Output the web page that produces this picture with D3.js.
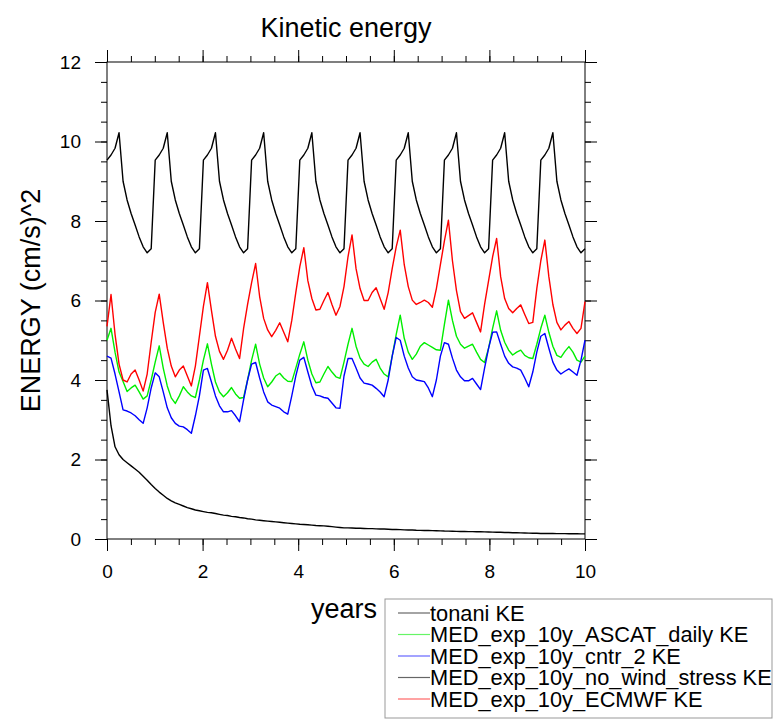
<!DOCTYPE html>
<html>
<head>
<meta charset="utf-8">
<script src="https://cdn.jsdelivr.net/npm/d3@7"></script>
<style>
	body { margin: 0; background: #fff; }
	text { font-family: "Liberation Sans", Arial, Helvetica, sans-serif; fill: #000; }
</style>
</head>
<body>
<svg id="chart" width="774" height="719"></svg>
<script>
var xTicks = [ 0, 2, 4, 6, 8, 10 ];
var yTicks = [ 0, 2, 4, 6, 8, 10, 12 ];
var seriesNames = [ "tonani KE", "MED_exp_10y_ASCAT_daily KE", "MED_exp_10y_cntr_2 KE", "MED_exp_10y_no_wind_stress KE", "MED_exp_10y_ECMWF KE" ];
var seriesColors = [ "#000000", "#00ee00", "#0000ff", "#000000", "#ff0000" ];

// monthly means, 10 years (120 values each)
var tonaniKE = [
	9.53, 9.66, 9.83, 10.22, 9.0, 8.53, 8.19, 7.9, 7.6, 7.35, 7.2, 7.3,
	9.53, 9.66, 9.83, 10.22, 9.0, 8.53, 8.19, 7.9, 7.6, 7.35, 7.2, 7.3,
	9.53, 9.66, 9.83, 10.22, 9.0, 8.53, 8.19, 7.9, 7.6, 7.35, 7.2, 7.3,
	9.53, 9.66, 9.83, 10.22, 9.0, 8.53, 8.19, 7.9, 7.6, 7.35, 7.2, 7.3,
	9.53, 9.66, 9.83, 10.22, 9.0, 8.53, 8.19, 7.9, 7.6, 7.35, 7.2, 7.3,
	9.53, 9.66, 9.83, 10.22, 9.0, 8.53, 8.19, 7.9, 7.6, 7.35, 7.2, 7.3,
	9.53, 9.66, 9.83, 10.22, 9.0, 8.53, 8.19, 7.9, 7.6, 7.35, 7.2, 7.3,
	9.53, 9.66, 9.83, 10.22, 9.0, 8.53, 8.19, 7.9, 7.6, 7.35, 7.2, 7.3,
	9.53, 9.66, 9.83, 10.22, 9.0, 8.53, 8.19, 7.9, 7.6, 7.35, 7.2, 7.3,
	9.53, 9.66, 9.83, 10.22, 9.0, 8.53, 8.19, 7.9, 7.6, 7.35, 7.2, 7.3 ];

var ascatKE = [
	5.0, 5.3, 4.7, 4.2, 3.96, 3.71, 3.8, 3.87, 3.7, 3.52, 3.6, 4.0,
	4.45, 4.86, 4.3, 3.85, 3.55, 3.41, 3.6, 3.83, 3.7, 3.6, 3.56, 4.0,
	4.5, 4.91, 4.4, 3.95, 3.7, 3.58, 3.68, 3.81, 3.65, 3.54, 3.56, 4.0,
	4.5, 4.9, 4.4, 4.05, 3.83, 3.95, 4.1, 4.17, 4.05, 3.97, 3.96, 4.3,
	4.65, 4.96, 4.5, 4.15, 3.93, 3.95, 4.15, 4.34, 4.2, 4.08, 4.04, 4.45,
	4.9, 5.3, 4.85, 4.55, 4.4, 4.34, 4.45, 4.52, 4.3, 4.15, 4.08, 4.6,
	5.15, 5.63, 5.05, 4.7, 4.52, 4.65, 4.85, 4.94, 4.88, 4.82, 4.76, 4.75,
	5.4, 6.01, 5.5, 5.1, 4.9, 4.8, 4.85, 4.9, 4.7, 4.52, 4.44, 4.8,
	5.3, 5.74, 5.25, 4.95, 4.75, 4.63, 4.7, 4.75, 4.62, 4.56, 4.54, 4.9,
	5.3, 5.63, 5.2, 4.85, 4.62, 4.57, 4.72, 4.84, 4.7, 4.5, 4.45, 4.6 ];

var cntrKE = [
	4.6, 4.55, 4.15, 3.7, 3.25, 3.22, 3.17, 3.1, 3.0, 2.91, 3.3, 3.8,
	4.18, 4.08, 3.7, 3.3, 3.05, 2.91, 2.84, 2.82, 2.75, 2.66, 3.1, 3.6,
	4.25, 4.29, 3.95, 3.6, 3.35, 3.2, 3.2, 3.23, 3.1, 2.95, 3.5, 4.0,
	4.4, 4.44, 4.05, 3.7, 3.45, 3.37, 3.33, 3.29, 3.2, 3.14, 3.6, 4.1,
	4.5, 4.57, 4.2, 3.85, 3.62, 3.6, 3.56, 3.54, 3.42, 3.3, 3.29, 4.1,
	4.54, 4.54, 4.3, 4.05, 3.92, 3.9, 3.87, 3.79, 3.7, 3.58, 4.0, 4.6,
	5.07, 5.0, 4.6, 4.3, 4.08, 4.0, 3.98, 3.96, 3.8, 3.58, 4.0, 4.6,
	4.94, 4.9, 4.55, 4.25, 4.08, 3.98, 3.98, 4.04, 3.9, 3.76, 4.3, 4.8,
	5.2, 5.21, 4.9, 4.6, 4.42, 4.33, 4.3, 4.25, 4.05, 3.83, 4.2, 4.7,
	5.1, 5.17, 4.8, 4.45, 4.25, 4.15, 4.22, 4.28, 4.2, 4.12, 4.5, 5.0 ];

var noWindKE = [
	3.75, 2.85, 2.32, 2.12, 2.0, 1.92, 1.84, 1.76, 1.68, 1.58, 1.48, 1.37,
	1.27, 1.18, 1.1, 1.02, 0.96, 0.91, 0.87, 0.83, 0.79, 0.76, 0.73, 0.71,
	0.69, 0.67, 0.66, 0.64, 0.62, 0.6, 0.59, 0.57, 0.56, 0.54, 0.53, 0.51,
	0.5, 0.48, 0.47, 0.46, 0.45, 0.44, 0.43, 0.42, 0.41, 0.4, 0.39, 0.38,
	0.37, 0.365, 0.36, 0.35, 0.34, 0.335, 0.33, 0.32, 0.31, 0.3, 0.29, 0.28,
	0.28, 0.275, 0.27, 0.27, 0.265, 0.26, 0.26, 0.255, 0.25, 0.25, 0.245, 0.24,
	0.24, 0.235, 0.23, 0.228, 0.225, 0.22, 0.218, 0.215, 0.212, 0.21, 0.207, 0.205,
	0.2, 0.198, 0.195, 0.193, 0.19, 0.188, 0.186, 0.185, 0.183, 0.181, 0.18, 0.177,
	0.174, 0.171, 0.168, 0.165, 0.162, 0.159, 0.156, 0.153, 0.15, 0.148, 0.146, 0.143,
	0.14, 0.139, 0.138, 0.137, 0.136, 0.135, 0.134, 0.133, 0.132, 0.131, 0.13, 0.13 ];

var ecmwfKE = [
	5.35, 6.15, 5.15, 4.4, 4.0, 3.95, 4.15, 4.25, 4.0, 3.72, 4.15, 4.95,
	5.7, 6.16, 5.45, 4.8, 4.35, 4.08, 4.25, 4.35, 4.1, 3.85, 4.35, 5.1,
	5.85, 6.45, 5.75, 5.1, 4.72, 4.52, 4.75, 5.05, 4.78, 4.54, 5.29, 5.9,
	6.45, 6.93, 6.1, 5.55, 5.26, 5.09, 5.25, 5.44, 5.2, 4.96, 5.5, 6.2,
	6.85, 7.33, 6.5, 6.05, 5.76, 5.78, 6.0, 6.2, 5.9, 5.63, 5.85, 6.35,
	7.1, 7.65, 6.8, 6.3, 6.0, 6.0, 6.2, 6.32, 6.05, 5.78, 6.2, 6.8,
	7.35, 7.77, 6.9, 6.35, 6.01, 5.9, 5.95, 6.01, 5.95, 5.83, 6.3, 6.9,
	7.5, 8.02, 7.0, 6.25, 5.72, 5.55, 5.62, 5.69, 5.45, 5.21, 5.9, 6.5,
	7.1, 7.56, 6.6, 6.05, 5.8, 5.69, 5.8, 5.89, 5.65, 5.42, 5.45, 6.3,
	7.0, 7.52, 6.6, 5.9, 5.45, 5.26, 5.38, 5.47, 5.3, 5.17, 5.3, 5.97 ];

var seriesValues = [ tonaniKE, ascatKE, cntrKE, noWindKE, ecmwfKE ];

var plotLeft = 107, plotRight = 585, plotTop = 62, plotBottom = 539;

var svg = d3.select("#chart");

var xScale = d3.scaleLinear().domain([ 0, 10 ]).range([ plotLeft, plotRight ]);
var yScale = d3.scaleLinear().domain([ 0, 12 ]).range([ plotBottom, plotTop ]);

function yearOf(index, count) {
	return index * 10 / (count - 1);
}

var minorX = d3.range(0, 10.01, 0.5);
var minorY = d3.range(0, 12.01, 0.5);

function drawAxis(axis, transform, labels) {
	var g = svg.append("g").attr("transform", transform).call(axis);
	g.select(".domain").remove();
	g.selectAll("line").attr("stroke", "#000").attr("stroke-width", 1);
	g.selectAll("text").style("font-size", "19px");
	if (!labels) {
		g.selectAll("text").remove();
	}
	return g;
}

// minor ticks
drawAxis(d3.axisBottom(xScale).tickValues(minorX).tickSize(6).tickFormat(""), "translate(0," + plotBottom + ")", false);
drawAxis(d3.axisTop(xScale).tickValues(minorX).tickSize(6).tickFormat(""), "translate(0," + plotTop + ")", false);
drawAxis(d3.axisLeft(yScale).tickValues(minorY).tickSize(6).tickFormat(""), "translate(" + plotLeft + ",0)", false);
drawAxis(d3.axisRight(yScale).tickValues(minorY).tickSize(6).tickFormat(""), "translate(" + plotRight + ",0)", false);

// major ticks
drawAxis(d3.axisBottom(xScale).tickValues(xTicks).tickSize(12).tickPadding(14), "translate(0," + plotBottom + ")", true);
drawAxis(d3.axisTop(xScale).tickValues(xTicks).tickSize(12), "translate(0," + plotTop + ")", false);
drawAxis(d3.axisLeft(yScale).tickValues(yTicks).tickSize(12).tickPadding(14), "translate(" + plotLeft + ",0)", true);
drawAxis(d3.axisRight(yScale).tickValues(yTicks).tickSize(12), "translate(" + plotRight + ",0)", false);

svg.append("rect")//
.attr("x", plotLeft)//
.attr("y", plotTop)//
.attr("width", plotRight - plotLeft)//
.attr("height", plotBottom - plotTop)//
.attr("fill", "none")//
.attr("stroke", "#000")//
.attr("stroke-width", 1);

var line = d3.line()//
.x(function(d, i, arr) {
	return xScale(yearOf(i, arr.length));
})//
.y(function(d) {
	return yScale(d);
});

svg.append("g").selectAll("path")//
.data(seriesValues)//
.enter().append("path")//
.attr("d", line)//
.attr("fill", "none")//
.attr("stroke", function(d, i) {
	return seriesColors[i];
})//
.attr("stroke-width", 1.4)//
.attr("stroke-linejoin", "round");

// titles
svg.append("text")//
.attr("x", (plotLeft + plotRight) / 2)//
.attr("y", 37)//
.attr("text-anchor", "middle")//
.style("font-size", "27px")//
.text("Kinetic energy");

svg.append("text")//
.attr("x", (plotLeft + plotRight) / 2 - 2)//
.attr("y", 618)//
.attr("text-anchor", "middle")//
.style("font-size", "27px")//
.text("years");

svg.append("text")//
.attr("transform", "translate(40," + (plotTop + plotBottom) / 2 + ") rotate(-90)")//
.attr("text-anchor", "middle")//
.style("font-size", "27px")//
.text("ENERGY (cm/s)^2");

// legend
var legendX = 385, legendY = 599, legendRow = 21.5;

svg.append("rect")//
.attr("x", legendX)//
.attr("y", legendY)//
.attr("width", 772 - legendX)//
.attr("height", 718 - legendY)//
.attr("fill", "#fff")//
.attr("stroke", "#999")//
.attr("stroke-width", 1);

var legendItem = svg.append("g").selectAll("g")//
.data(seriesNames)//
.enter().append("g")//
.attr("transform", function(d, i) {
	return "translate(" + legendX + "," + (legendY + 14 + i * legendRow) + ")";
});

legendItem.append("line")//
.attr("x1", 13)//
.attr("x2", 45)//
.attr("y1", 0)//
.attr("y2", 0)//
.attr("stroke", function(d, i) {
	return seriesColors[i];
})//
.attr("stroke-opacity", 0.6)//
.attr("stroke-width", 1.2);

legendItem.append("text")//
.attr("x", 45)//
.attr("y", 7.5)//
.style("font-size", "21.8px")//
.text(function(d) {
	return d;
});
</script>
</body>
</html>
